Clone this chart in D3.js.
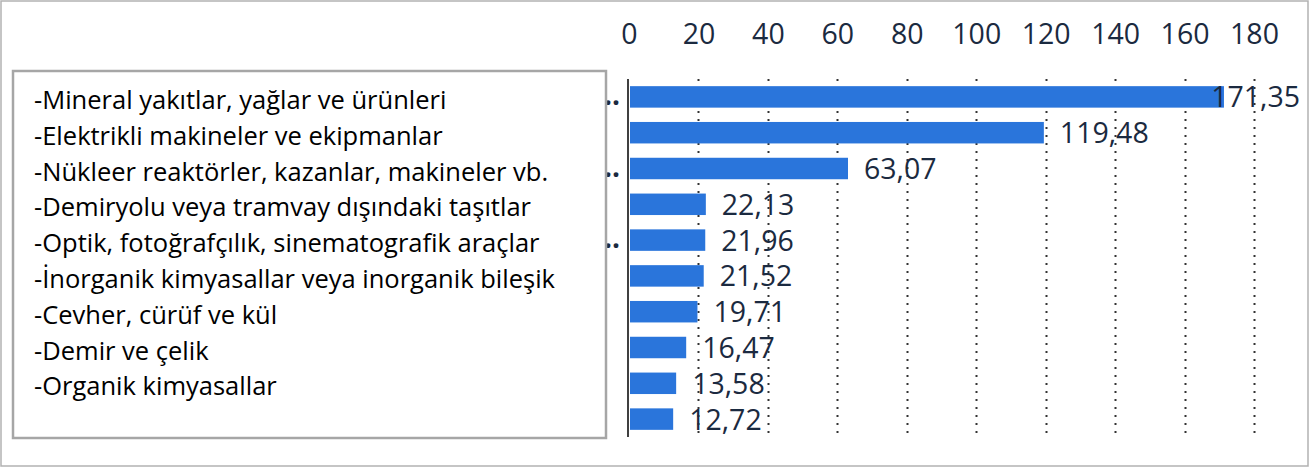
<!DOCTYPE html>
<html>
<head>
<meta charset="utf-8">
<title>Bar chart</title>
<script src="https://cdn.jsdelivr.net/npm/d3@7"></script>
<style>
body { margin: 0; background: #fff; }
</style>
</head>
<body>
<script>
// data
var categories = [
  "-Mineral yakıtlar, yağlar ve ürünleri",
  "-Elektrikli makineler ve ekipmanlar",
  "-Nükleer reaktörler, kazanlar, makineler vb.",
  "-Demiryolu veya tramvay dışındaki taşıtlar",
  "-Optik, fotoğrafçılık, sinematografik araçlar",
  "-İnorganik kimyasallar veya inorganik bileşik",
  "-Cevher, cürüf ve kül",
  "-Demir ve çelik",
  "-Organik kimyasallar",
  ""
];
var values = [171.35, 119.48, 63.07, 22.13, 21.96, 21.52, 19.71, 16.47, 13.58, 12.72];
var tickValues = [0, 20, 40, 60, 80, 100, 120, 140, 160, 180];
// rows whose hidden axis label peeks out as ".."
var truncated = [0, 2, 4];

var W = 1310, H = 468;
var textCol = "#1b2a40";
var barCol = "#2a75db";

var svg = d3.select("body").append("svg")
  .attr("width", W)
  .attr("height", H);

// outer frame
svg.append("rect")
  .attr("x", 1).attr("y", 1)
  .attr("width", W - 3).attr("height", H - 3)
  .attr("fill", "#fff")
  .attr("stroke", "#b2b2b2")
  .attr("stroke-width", 1.5);

var x = d3.scaleLinear().domain([0, 180]).range([629, 1254]);
var y = d3.scaleBand()
  .domain(d3.range(values.length))
  .range([79, 437])
  .paddingInner(0.4)
  .paddingOuter(0.2);

// dotted gridlines
svg.append("g")
  .selectAll("line")
  .data(tickValues.slice(1))
  .join("line")
  .attr("x1", d => Math.round(x(d)) + 0.5)
  .attr("x2", d => Math.round(x(d)) + 0.5)
  .attr("y1", 79).attr("y2", 437)
  .attr("stroke", "#333")
  .attr("stroke-width", 2)
  .attr("stroke-dasharray", "2,6");

// top axis labels
var xAxis = svg.append("g")
  .attr("transform", "translate(0,44)")
  .call(d3.axisTop(x).tickValues(tickValues).tickSize(0).tickPadding(0));
xAxis.select(".domain").remove();
xAxis.selectAll("text")
  .attr("font-family", "Open Sans")
  .attr("font-size", 28.5)
  .attr("fill", textCol)
  .attr("dy", 0);

// bars
svg.append("g")
  .selectAll("rect")
  .data(values)
  .join("rect")
  .attr("x", x(0) + 1)
  .attr("y", (d, i) => y(i))
  .attr("width", d => x(d) - x(0) - 1)
  .attr("height", y.bandwidth())
  .attr("fill", barCol);

// axis line
svg.append("line")
  .attr("x1", x(0) - 1).attr("x2", x(0) - 1)
  .attr("y1", 79).attr("y2", 437)
  .attr("stroke", "#404040")
  .attr("stroke-width", 2);

// value labels
svg.append("g")
  .selectAll("text")
  .data(values)
  .join("text")
  .attr("font-family", "Open Sans")
  .attr("font-size", 28.5)
  .attr("fill", textCol)
  .attr("y", (d, i) => y(i) + y.bandwidth() / 2 + 10.5)
  .text(d => d3.format(".2f")(d).replace(".", ","))
  .attr("x", function(d) {
    var w = this.getComputedTextLength();
    var px = x(d) + 16;
    if (px + w > 1300) px = 1300 - w;
    return px;
  });

// hidden axis label ends
svg.append("g")
  .selectAll("text")
  .data(truncated)
  .join("text")
  .attr("x", 604)
  .attr("y", d => y(d) + y.bandwidth() / 2 + 8)
  .attr("font-family", "Open Sans")
  .attr("font-size", 28)
  .attr("font-weight", "bold")
  .attr("fill", textCol)
  .text("..");

// text box covering the category axis
svg.append("rect")
  .attr("x", 13).attr("y", 71)
  .attr("width", 593).attr("height", 367)
  .attr("fill", "#fff")
  .attr("stroke", "#a6a6a6")
  .attr("stroke-width", 2.5);

svg.append("g")
  .selectAll("text")
  .data(categories)
  .join("text")
  .attr("x", 34)
  .attr("y", (d, i) => y(i) + y.bandwidth() / 2 + 12)
  .attr("font-family", "Open Sans")
  .attr("font-size", 25.5)
  .attr("fill", "#000")
  .text(d => d);
</script>
</body>
</html>
